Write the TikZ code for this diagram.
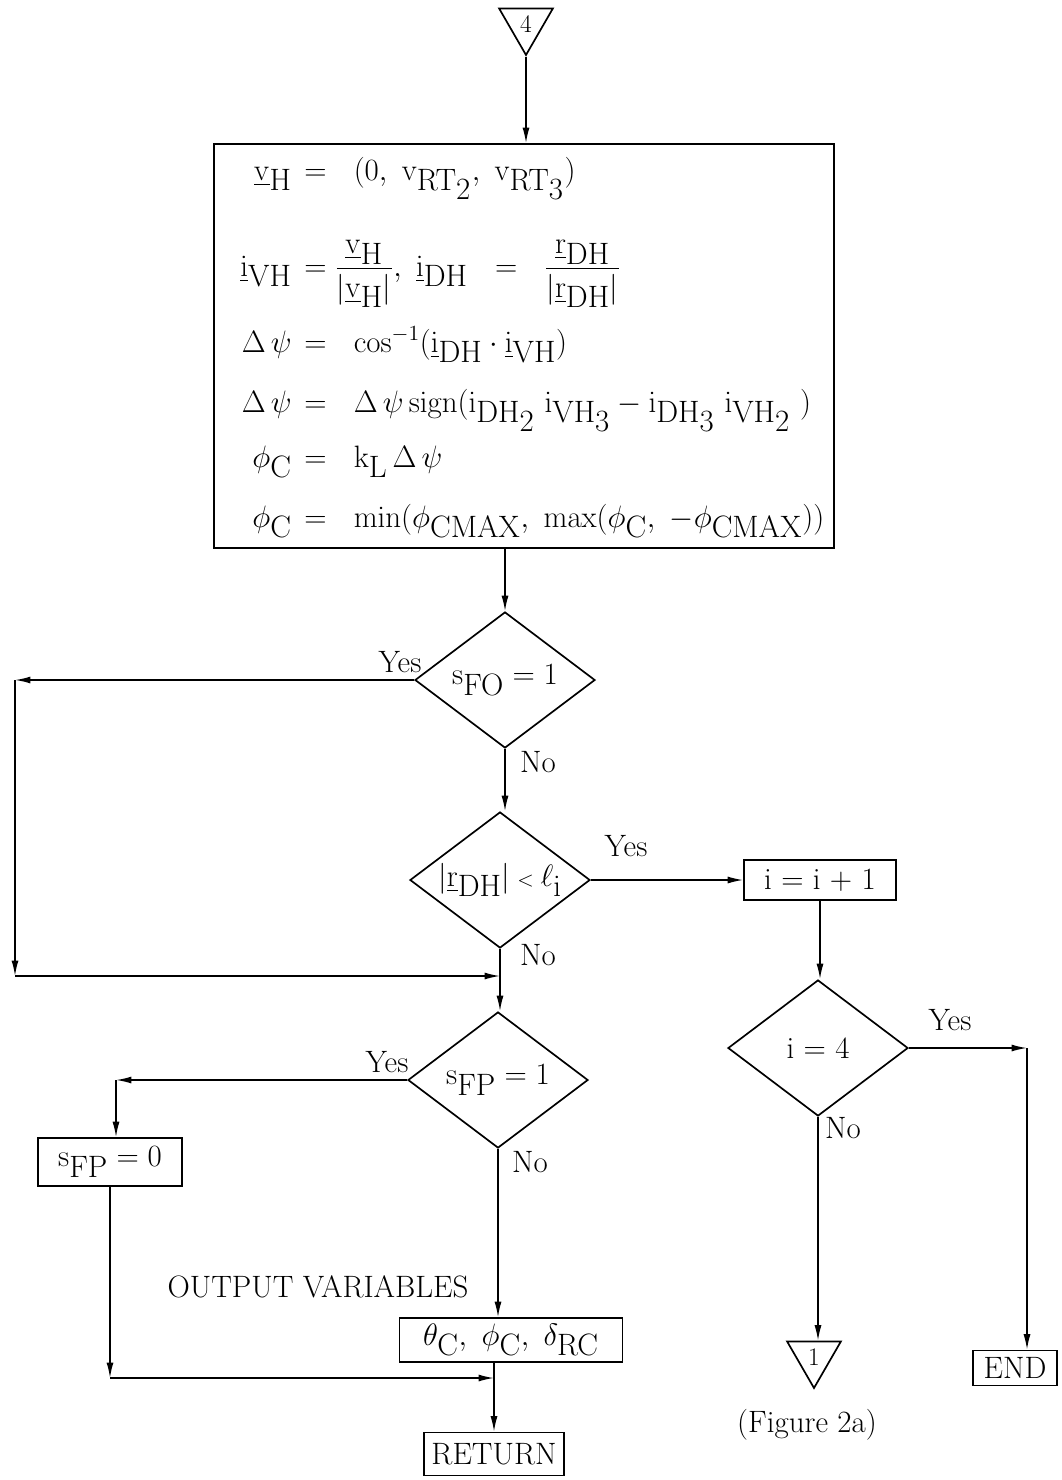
\RequirePackage{fix-cm}
\documentclass[tikz,border=0pt]{standalone}
\usepackage{amsmath}
\usetikzlibrary{arrows.meta, positioning, shapes.geometric}

% large, typewriter-like subscripts
\newcommand{\sbs}[1]{_{\textstyle\mathrm{#1}}}
\newcommand{\vecu}[1]{\underline{\mathrm{#1}}}

\tikzset{
  flow/.style={draw, line width=1.2pt},
  box/.style={flow, rectangle, inner sep=0pt},
  decision/.style={flow, diamond, aspect=1.32, minimum width=4.5cm, minimum height=3.4cm, inner sep=0pt},
  offpage/.style={flow, regular polygon, regular polygon sides=3, shape border rotate=180, minimum size=1.55cm, inner sep=0pt, font=\fontsize{18}{20}\selectfont},
  arr/.style={line width=1.1pt, -{Latex[length=11pt, width=5pt]}},
  line/.style={line width=1.1pt},
  eq/.style={inner sep=0pt, font=\fontsize{22}{26}\selectfont},
}

\begin{document}
\begin{tikzpicture}[x=0.025cm, y=-0.025cm, font=\fontsize{22}{26}\selectfont]
  \useasboundingbox (0,0) rectangle (1061,1480);

  % entry and computation block
  \node[offpage] (in4) at (526,24) {4};
  \node[box, minimum width=15.5cm, minimum height=10.1cm] (calc) at (524,346) {};

  \node[eq, anchor=base east] (l1) at (292,180) {$\vecu{v}\sbs{H}$};
  \node[eq, anchor=base west] (r1) at (304,180) {$=\ \ (0,\ \mathrm{v}\sbs{RT\sbs{2}},\ \mathrm{v}\sbs{RT\sbs{3}})$};
  \node[eq, anchor=base east] (l2) at (292,276) {$\vecu{i}\sbs{VH}$};
  \node[eq, anchor=base west] (r2) at (304,276) {$=\dfrac{\vecu{v}\sbs{H}}{\lvert\vecu{v}\sbs{H}\rvert},\ \vecu{i}\sbs{DH}\ \ =\ \ \dfrac{\vecu{r}\sbs{DH}}{\lvert\vecu{r}\sbs{DH}\rvert}$};
  \node[eq, anchor=base east] (l3) at (292,352) {$\Delta\,\psi$};
  \node[eq, anchor=base west] (r3) at (304,352) {$=\ \ \cos^{-1}(\vecu{i}\sbs{DH}\cdot\vecu{i}\sbs{VH})$};
  \node[eq, anchor=base east] (l4) at (292,412) {$\Delta\,\psi$};
  \node[eq, anchor=base west] (r4) at (304,412) {$=\ \ \Delta\,\psi\,\mathrm{sign}(\mathrm{i}\sbs{DH\sbs{2}}\ \mathrm{i}\sbs{VH\sbs{3}} - \mathrm{i}\sbs{DH\sbs{3}}\ \mathrm{i}\sbs{VH\sbs{2}}\ )$};
  \node[eq, anchor=base east] (l5) at (292,467) {$\phi\sbs{C}$};
  \node[eq, anchor=base west] (r5) at (304,467) {$=\ \ \mathrm{k}\sbs{L}\,\Delta\,\psi$};
  \node[eq, anchor=base east] (l6) at (292,527) {$\phi\sbs{C}$};
  \node[eq, anchor=base west] (r6) at (304,527) {$=\ \ \min(\phi\sbs{CMAX},\ \max(\phi\sbs{C},\ -\phi\sbs{CMAX}))$};

  % decisions and boxes
  \node[decision] (fo) at (505,680) {$\mathrm{s}\sbs{FO} = 1$};
  \node[decision] (rdh) at (500,880) {$\lvert\vecu{r}\sbs{DH}\rvert\mathbin{\scriptstyle<}\ell\sbs{i}$};
  \node[box, minimum width=3.8cm, minimum height=1cm] (inc) at (820,880) {i = i + 1};
  \node[decision] (ifour) at (818,1048) {i = 4};
  \node[box, minimum width=2.1cm, minimum height=0.875cm] (stop) at (1015,1368) {END};
  \node[offpage] (out1) at (814,1357) {1};
  \node (fig) at (807,1425) {(Figure 2a)};
  \node[decision] (fp) at (498,1080) {$\mathrm{s}\sbs{FP} = 1$};
  \node[box, minimum width=3.6cm, minimum height=1.2cm] (fpzero) at (110,1162) {$\mathrm{s}\sbs{FP} = 0$};
  \node (outlbl) at (318,1287) {OUTPUT VARIABLES};
  \node[box, minimum width=5.575cm, minimum height=1.1cm] (outvars) at (511,1340) {$\theta\sbs{C},\ \phi\sbs{C},\ \delta\sbs{RC}$};
  \node[box, minimum width=3.5cm, minimum height=1.075cm] (ret) at (494,1454) {RETURN};

  % branch labels
  \node (fo yes) at (400,662) {Yes};
  \node (fo no) at (538,762) {No};
  \node (rdh yes) at (626,846) {Yes};
  \node (rdh no) at (538,955) {No};
  \node (ifour yes) at (950,1020) {Yes};
  \node (ifour no) at (843,1128) {No};
  \node (fp yes) at (387,1062) {Yes};
  \node (fp no) at (530,1162) {No};

  % bend points
  \coordinate (foleft) at (15,680);
  \coordinate (fobot) at (15,976);
  \coordinate (merge) at (500,976);
  \coordinate (ifright) at (1027,1048);
  \coordinate (fpleft) at (116,1080);
  \coordinate (zerobot) at (110,1378);
  \coordinate (retmerge) at (494,1378);

  % connectors
  \draw[arr] (in4.south) -- (in4.south |- calc.north);
  \draw[arr] (calc.south -| fo.north) -- (fo.north);
  \draw[arr] (fo.west) -- (foleft);
  \draw[arr] (foleft) -- (fobot);
  \draw[arr] (fobot) -- (merge);
  \draw[arr] (fo.south) -- (fo.south |- rdh.north);
  \draw[line] (rdh.south) -- (merge);
  \draw[arr] (merge) -- (merge |- fp.north);
  \draw[arr] (rdh.east) -- (inc.west);
  \draw[arr] (inc.south) -- (inc.south |- ifour.north);
  \draw[arr] (ifour.east) -- (ifright);
  \draw[arr] (ifright) -- (ifright |- stop.north);
  \draw[arr] (ifour.south) -- (ifour.south |- out1.north);
  \draw[arr] (fp.west) -- (fpleft);
  \draw[arr] (fpleft) -- (fpleft |- fpzero.north);
  \draw[arr] (fpzero.south -| zerobot) -- (zerobot);
  \draw[arr] (zerobot) -- (retmerge);
  \draw[arr] (fp.south) -- (fp.south |- outvars.north);
  \draw[line] (outvars.south -| ret.north) -- (retmerge);
  \draw[arr] (retmerge) -- (ret.north);
\end{tikzpicture}
\end{document}
